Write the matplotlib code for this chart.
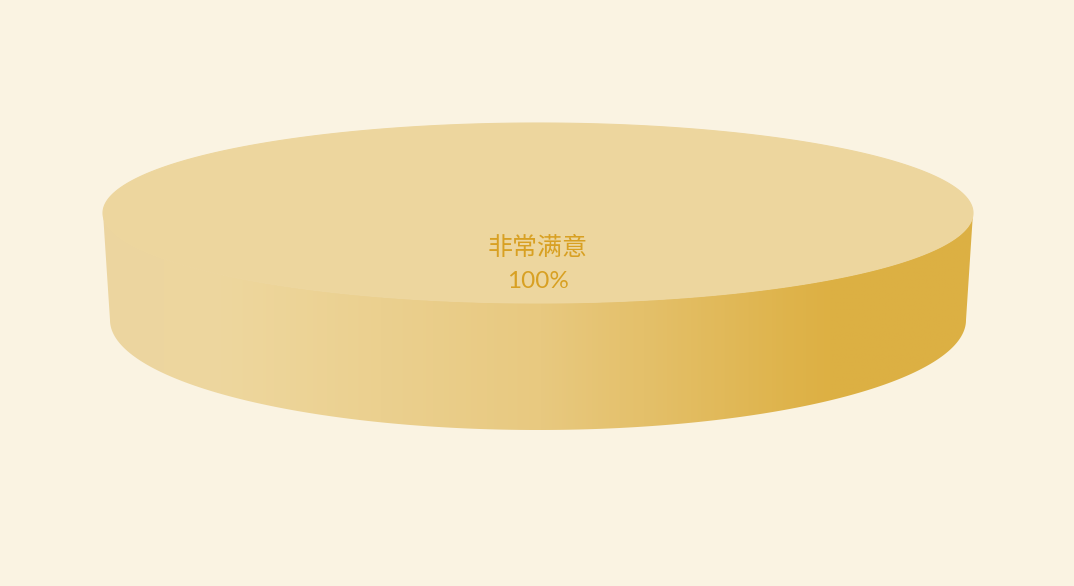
import numpy as np
import matplotlib.pyplot as plt
from matplotlib.patches import Polygon
from matplotlib.colors import LinearSegmentedColormap

# data
labels = ['非常满意']
values = [100]

bg = '#FAF3E2'
top_color = '#EDD69E'
text_color = '#D8A022'

fig = plt.figure(figsize=(10.74, 5.86), dpi=100, facecolor=bg)
ax = fig.add_axes([0, 0, 1, 1])
ax.set_xlim(0, 1074)
ax.set_ylim(586, 0)
ax.axis('off')
ax.set_facecolor(bg)

# ellipse geometry in pixels (perspective: bottom a bit narrower, deeper)
cx = 538
top_cy, top_a, top_b = 213, 435, 90
bot_cy, bot_a, bot_b = 320, 428, 110

# side shading, left to right across the wall
x0, x1 = cx - top_a, cx + top_a
stops = [(110, '#ECD5A0'), (220, '#EED79E'), (540, '#E8C980'), (830, '#DDB043'), (973, '#DCB044')]
cmap = LinearSegmentedColormap.from_list(
    'side', [((x - x0) / (x1 - x0), c) for x, c in [(x0, stops[0][1])] + stops[1:-1] + [(x1, stops[-1][1])]])

total = sum(values)
start = 0.0
for lab, val in zip(labels, values):
    span = 2 * np.pi * val / total
    t = np.linspace(start, start + span, 400)

    # side wall: front half only
    tf = np.linspace(0, np.pi, 400)
    upper = np.column_stack([cx + top_a * np.cos(tf), top_cy + top_b * np.sin(tf)])
    lower = np.column_stack([cx + bot_a * np.cos(tf), bot_cy + bot_b * np.sin(tf)])
    side_pts = np.vstack([upper, lower[::-1]])
    side = Polygon(side_pts, closed=True, facecolor='none', edgecolor='none')
    ax.add_patch(side)
    grad = np.linspace(0, 1, 512).reshape(1, -1)
    im = ax.imshow(grad, cmap=cmap, extent=[x0, x1, 440, 200],
                   aspect='auto', interpolation='bilinear', zorder=1)
    im.set_clip_path(side)

    # top face
    pts = np.column_stack([cx + top_a * np.cos(t), top_cy + top_b * np.sin(t)])
    if val < total:
        pts = np.vstack([[cx, top_cy], pts])
    ax.add_patch(Polygon(pts, closed=True, facecolor=top_color, edgecolor=top_color,
                         linewidth=0.8, zorder=2))

    pct = f'{val / total * 100:.0f}%'
    ax.text(cx, 248, lab, ha='center', va='center', fontsize=18, color=text_color,
            family=['Noto Sans CJK SC', 'DejaVu Sans'], fontweight='light', zorder=3)
    ax.text(cx, 282, pct, ha='center', va='center', fontsize=17.5, color=text_color,
            family=['Lato', 'DejaVu Sans'], zorder=3)
    start += span

fig.savefig('out.png', dpi=100, facecolor=bg)
